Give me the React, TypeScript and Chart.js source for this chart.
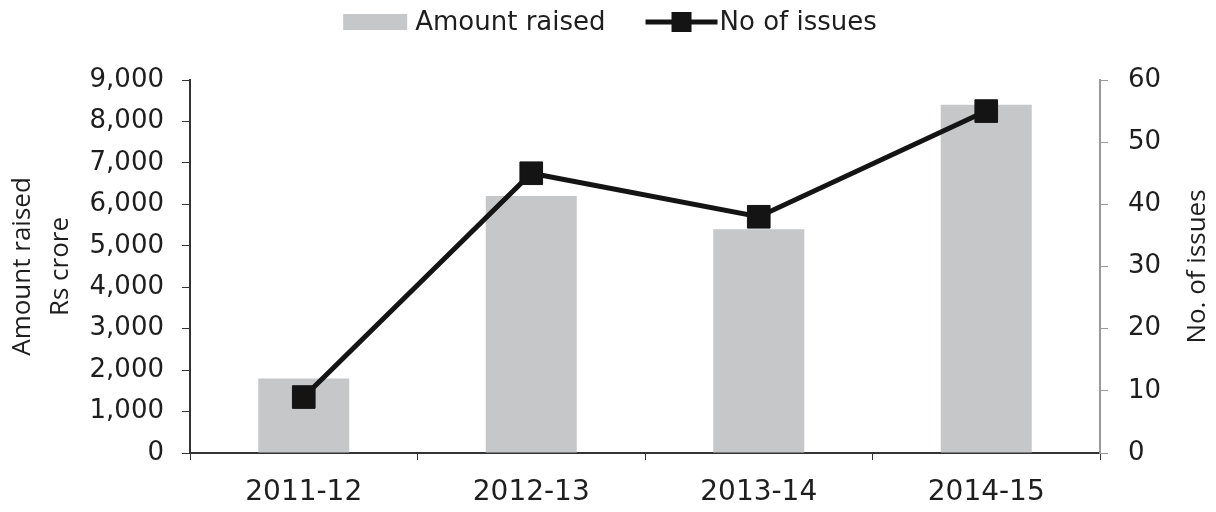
import React, { useEffect, useRef } from "react";
import { Chart, registerables } from "chart.js";

Chart.register(...registerables);

const categories = ["2011-12", "2012-13", "2013-14", "2014-15"];
const amountRaised = [1800, 6200, 5400, 8400];
const noOfIssues = [9, 45, 38, 55];
const amountLabel = "Amount raised";
const issuesLabel = "No of issues";
const leftTitle = ["Amount raised", "Rs crore"];
const rightTitle = "No. of issues";

const TICK_FONT = "'DejaVu Sans', sans-serif";
const TITLE_FONT = "'Open Sans', sans-serif";
const BAR_COLOR = "#c6c7c9";
const LINE_COLOR = "#141414";
const TEXT_COLOR = "#1e1e1e";

const customDecor = {
  id: "customDecor",
  afterDraw(chart: any) {
    const ctx = chart.ctx as CanvasRenderingContext2D;
    ctx.save();
    // Legend
    ctx.font = `26px ${TICK_FONT}`;
    ctx.textBaseline = "middle";
    ctx.fillStyle = TEXT_COLOR;
    const boxW = 64;
    const gap = 8;
    const lineW = 72;
    const itemGap = 40;
    const w1 = ctx.measureText(amountLabel).width;
    const w2 = ctx.measureText(issuesLabel).width;
    const total = boxW + gap + w1 + itemGap + lineW + 2 + w2;
    let x = chart.width / 2 - total / 2 + 2;
    const y = 22;
    ctx.fillStyle = BAR_COLOR;
    ctx.fillRect(x, y - 8, boxW, 16);
    x += boxW + gap;
    ctx.fillStyle = TEXT_COLOR;
    ctx.textAlign = "left";
    ctx.fillText(amountLabel, x, y + 1);
    x += w1 + itemGap;
    ctx.strokeStyle = LINE_COLOR;
    ctx.lineWidth = 5;
    ctx.beginPath();
    ctx.moveTo(x, y);
    ctx.lineTo(x + lineW, y);
    ctx.stroke();
    ctx.fillStyle = LINE_COLOR;
    ctx.fillRect(x + lineW / 2 - 10, y - 10, 20, 20);
    x += lineW + 2;
    ctx.fillStyle = TEXT_COLOR;
    ctx.fillText(issuesLabel, x, y + 1);

    // Right axis title, reading bottom-to-top
    const area = chart.chartArea;
    ctx.font = `26px ${TITLE_FONT}`;
    ctx.translate(chart.width - 18, (area.top + area.bottom) / 2);
    ctx.rotate(-Math.PI / 2);
    ctx.textAlign = "center";
    ctx.textBaseline = "middle";
    ctx.fillText(rightTitle, 0, 0);
    ctx.restore();
  },
};

export default function App() {
  const canvasRef = useRef<HTMLCanvasElement | null>(null);

  useEffect(() => {
    if (!canvasRef.current) return;
    const chart = new Chart(canvasRef.current, {
      type: "bar",
      data: {
        labels: categories,
        datasets: [
          {
            type: "line",
            label: issuesLabel,
            data: noOfIssues,
            yAxisID: "y1",
            borderColor: LINE_COLOR,
            backgroundColor: LINE_COLOR,
            borderWidth: 5,
            pointStyle: "rect",
            pointRadius: 16,
            pointBorderWidth: 1,
            pointBackgroundColor: LINE_COLOR,
            pointBorderColor: LINE_COLOR,
            tension: 0,
            order: 0,
          } as any,
          {
            type: "bar",
            label: amountLabel,
            data: amountRaised,
            yAxisID: "y",
            backgroundColor: BAR_COLOR,
            borderWidth: 0,
            barPercentage: 1,
            categoryPercentage: 0.4,
            order: 1,
          } as any,
        ],
      },
      options: {
        animation: false,
        responsive: true,
        maintainAspectRatio: false,
        layout: { padding: { top: 80, left: 0, right: 0, bottom: 0 } },
        plugins: {
          legend: { display: false },
          tooltip: { enabled: false },
        },
        scales: {
          x: {
            offset: true,
            grid: {
              offset: true,
              drawOnChartArea: false,
              drawTicks: true,
              tickLength: 7,
              tickColor: "#333",
            },
            border: { color: "#333", width: 2 },
            ticks: {
              color: TEXT_COLOR,
              font: { family: TICK_FONT, size: 28 },
              padding: 16,
              maxRotation: 0,
            },
            afterFit: (s: any) => {
              s.height = 59;
            },
          },
          y: {
            position: "left",
            min: 0,
            max: 9000,
            ticks: {
              stepSize: 1000,
              color: TEXT_COLOR,
              font: { family: TICK_FONT, size: 26 },
              padding: 18,
              callback: (v: any) => Number(v).toLocaleString("en-US"),
            },
            grid: {
              drawOnChartArea: false,
              drawTicks: true,
              tickLength: 8,
              tickColor: "#333",
            },
            border: { color: "#333", width: 2 },
            title: {
              display: true,
              text: leftTitle,
              color: TEXT_COLOR,
              font: { family: TITLE_FONT, size: 26, lineHeight: 1.45 },
              padding: { top: 4, bottom: 0 },
            },
            afterFit: (s: any) => {
              s.width = 190;
            },
          },
          y1: {
            position: "right",
            min: 0,
            max: 60,
            ticks: {
              stepSize: 10,
              color: TEXT_COLOR,
              font: { family: TICK_FONT, size: 26 },
              padding: 20,
            },
            grid: {
              drawOnChartArea: false,
              drawTicks: true,
              tickLength: 8,
              tickColor: "#999",
            },
            border: { color: "#999", width: 2 },
            afterFit: (s: any) => {
              s.width = 116;
            },
          },
        },
      },
      plugins: [customDecor],
    });
    return () => chart.destroy();
  }, []);

  return (
    <div style={{ position: "fixed", left: 0, top: 0, width: 1216, height: 512, background: "#fff" }}>
      <canvas ref={canvasRef} />
    </div>
  );
}
